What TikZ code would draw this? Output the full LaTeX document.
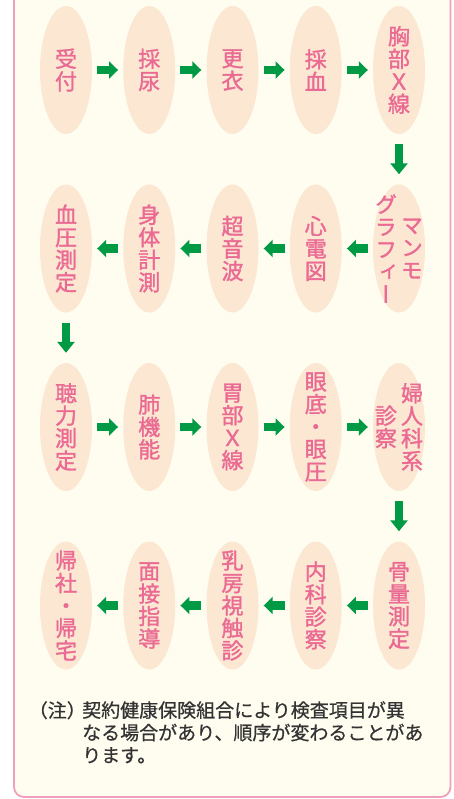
\documentclass[tikz,border=0pt]{standalone}
\usepackage{fontspec}
\usetikzlibrary{shapes.geometric,arrows.meta,positioning}
\newfontfamily\jpfont[FakeBold=0.6]{Noto Sans CJK JP}
\newfontfamily\tatefont[RawFeature=+vert,FakeBold=1.4]{Noto Sans CJK JP}
\definecolor{cream}{HTML}{FFFDF0}
\definecolor{peach}{HTML}{FCE7D2}
\definecolor{rosetext}{HTML}{EA6A93}
\definecolor{framepink}{HTML}{F0A0BA}
\definecolor{arrowgreen}{HTML}{009A44}
\definecolor{notegray}{HTML}{333333}

\begin{document}
\begin{tikzpicture}[x=1pt,y=1pt,node distance=83.25pt,
    station/.style={ellipse,fill=peach,minimum width=52pt,minimum height=128pt,inner sep=0pt},
    tate/.style={text=rosetext,font=\tatefont\fontsize{22}{22.5}\selectfont,align=center,inner sep=0pt},
    flow/.style={-{Triangle[width=17pt,length=9pt]},color=arrowgreen,line width=8.5pt,shorten <=5pt,shorten >=5pt},
    drop/.style={-{Triangle[width=17pt,length=11pt]},color=arrowgreen,line width=8.5pt,shorten <=10pt,shorten >=10pt},
    note/.style={text=notegray,font=\jpfont\fontsize{19}{22.5}\selectfont,inner sep=0pt}]
                    \useasboundingbox (0,0) rectangle (454,-799);
                    \clip (0,0) rectangle (454,-799);
                    \fill[white] (0,0) rectangle (454,-799);
                    \draw[framepink,line width=1.8pt,fill=cream,rounded corners=10pt] (14,20) rectangle (450.5,-797);

                    % first row, left to right
                    \node[station,label={[tate]center:受\\付}] (1) at (66,-70) {};
                    \node[station,label={[tate]center:採\\尿}] (2) [right of = 1] {};
                    \node[station,label={[tate]center:更\\衣}] (3) [right of = 2] {};
                    \node[station,label={[tate]center:採\\血}] (4) [right of = 3] {};
                    \node[station,label={[tate]center:胸\\部\\Ｘ\\線}] (5) [right of = 4] {};

                    % second row, right to left
                    \node[station,label={[tate,xshift=13pt]center:マ\\ン\\モ},
                        label={[tate,xshift=-13pt]center:グ\\ラ\\フ\\ィ\\ー}] (6) [node distance=178.5pt,below of = 5] {};
                    \node[station,label={[tate]center:心\\電\\図}] (7) [left of = 6] {};
                    \node[station,label={[tate]center:超\\音\\波}] (8) [left of = 7] {};
                    \node[station,label={[tate]center:身\\体\\計\\測}] (9) [left of = 8] {};
                    \node[station,label={[tate]center:血\\圧\\測\\定}] (10) [left of = 9] {};

                    % third row, left to right
                    \node[station,label={[tate]center:聴\\力\\測\\定}] (11) [node distance=178.5pt,below of = 10] {};
                    \node[station,label={[tate]center:肺\\機\\能}] (12) [right of = 11] {};
                    \node[station,label={[tate]center:胃\\部\\Ｘ\\線}] (13) [right of = 12] {};
                    \node[station,label={[tate]center:眼\\底\\・\\眼\\圧}] (14) [right of = 13] {};
                    \node[station,label={[tate,xshift=13pt]center:婦\\人\\科\\系},
                        label={[tate,xshift=-13pt]center:診\\察}] (15) [right of = 14] {};

                    % fourth row, right to left
                    \node[station,label={[tate]center:骨\\量\\測\\定}] (16) [node distance=178.5pt,below of = 15] {};
                    \node[station,label={[tate]center:内\\科\\診\\察}] (17) [left of = 16] {};
                    \node[station,label={[tate]center:乳\\房\\視\\触\\診}] (18) [left of = 17] {};
                    \node[station,label={[tate]center:面\\接\\指\\導}] (19) [left of = 18] {};
                    \node[station,label={[tate]center:帰\\社\\・\\帰\\宅}] (20) [left of = 19] {};

                    \path[flow]
                            (1) edge (2)
                            (2) edge (3)
                            (3) edge (4)
                            (4) edge (5)

                            (6) edge (7)
                            (7) edge (8)
                            (8) edge (9)
                            (9) edge (10)

                            (11) edge (12)
                            (12) edge (13)
                            (13) edge (14)
                            (14) edge (15)

                            (16) edge (17)
                            (17) edge (18)
                            (18) edge (19)
                            (19) edge (20)
                        ;
                    \path[drop]
                            (5) edge (6)
                            (10) edge (11)
                            (15) edge (16)
                        ;

                    % footnote
                    \node[note,anchor=north west,align=left] (body) at (82,-701) {契約健康保険組合により検査項目が異\\なる場合があり、順序が変わることがあ\\ります。};
                    \node[note,anchor=north east] (mark) at ([xshift=4pt]body.north west) {（注）};
                \end{tikzpicture}
\end{document}
